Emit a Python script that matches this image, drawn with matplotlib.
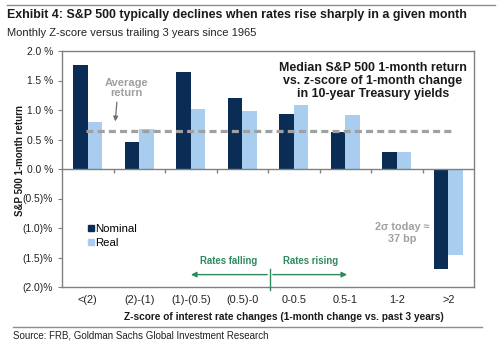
import numpy as np
import matplotlib.pyplot as plt
from matplotlib.lines import Line2D

plt.rcParams['font.family'] = ['Liberation Sans', 'DejaVu Sans']

categories = ['<(2)', '(2)-(1)', '(1)-(0.5)', '(0.5)-0', '0-0.5', '0.5-1', '1-2', '>2']
nominal = [1.77, 0.46, 1.64, 1.20, 0.94, 0.63, 0.29, -1.70]
real = [0.79, 0.68, 1.02, 0.99, 1.09, 0.92, 0.29, -1.45]
average_return = 0.64
yticks = [2.0, 1.5, 1.0, 0.5, 0.0, -0.5, -1.0, -1.5, -2.0]
yticklabels = ['2.0 %', '1.5 %', '1.0 %', '0.5 %', '0.0 %', '(0.5)%', '(1.0)%', '(1.5)%', '(2.0)%']

NAVY = '#0b2d55'
LIGHT = '#a9cdee'
GREY = '#a0a0a0'
GREEN = '#2f8a5e'
FRAME = '#808080'
TXT = '#1a1a1a'

W, H = 500, 343
fig = plt.figure(figsize=(W / 100, H / 100), dpi=100)
ax = fig.add_axes([62 / W, 1 - 287 / H, 412 / W, 236 / H])

x = np.arange(len(categories))
bw = 0.28
ax.bar(x - bw / 2, nominal, bw, color=NAVY, label='Nominal', zorder=2)
ax.bar(x + bw / 2, real, bw, color=LIGHT, label='Real', zorder=2)

ax.set_xlim(-0.5, len(categories) - 0.5)
ax.set_ylim(-2.0, 2.0)
ax.set_yticks(yticks)
ax.set_yticklabels(yticklabels, fontsize=7.4, color='#222222')
ax.set_xticks(x)
ax.set_xticklabels(categories, fontsize=7.9, color='#222222')
ax.tick_params(axis='x', length=0, pad=6)
ax.tick_params(axis='y', length=3, color=FRAME, pad=3.6)
for s in ax.spines.values():
    s.set_color(FRAME)
    s.set_linewidth(1)

# zero line with small ticks between the buckets
ax.axhline(0, color=FRAME, lw=1, zorder=3)
bounds = np.arange(0.5, len(categories) - 0.5)
ax.vlines(bounds, -0.06, 0, color=FRAME, lw=1, zorder=3)

# average return
ax.plot([-0.03, 7.05], [average_return, average_return], color=GREY, lw=2.3,
        ls=(0, (2.2, 1.3)), zorder=4)
ax.text(0.76, 1.37, 'Average\nreturn', color=GREY, fontsize=8, fontweight='bold',
        ha='center', va='center', linespacing=1.05)
ax.annotate('', xy=(0.53, 0.76), xytext=(0.57, 1.18),
            arrowprops=dict(arrowstyle='-|>', color='#6f6f6f', lw=0.9, mutation_scale=7))

ax.text(5.54, 1.49, 'Median S&P 500 1-month return\nvs. z-score of 1-month change\nin 10-year Treasury yields',
        color=TXT, fontsize=8.9, fontweight='bold', ha='center', va='center',
        linespacing=1.1)

ax.text(6.1, -1.08, '2σ today ≈\n37 bp', color=GREY, fontsize=7.8, fontweight='bold',
        ha='center', va='center', linespacing=1.2)

# rates falling / rising arrows
ya = -1.79
xd = 3.54
ax.annotate('', xy=(1.95, ya), xytext=(xd, ya),
            arrowprops=dict(arrowstyle='-|>', color=GREEN, lw=1, mutation_scale=8))
ax.annotate('', xy=(5.09, ya), xytext=(xd, ya),
            arrowprops=dict(arrowstyle='-|>', color=GREEN, lw=1, mutation_scale=8))
ax.plot([xd, xd], [-1.69, -2.05], color=GREEN, lw=1, clip_on=False, zorder=5)
ax.text(2.74, -1.64, 'Rates falling', color=GREEN, fontsize=6.9, fontweight='bold',
        ha='center', va='bottom')
ax.text(4.32, -1.64, 'Rates rising', color=GREEN, fontsize=6.9, fontweight='bold',
        ha='center', va='bottom')

handles = [Line2D([], [], marker='s', ls='', color=NAVY, markersize=4.5),
           Line2D([], [], marker='s', ls='', color=LIGHT, markersize=4.5)]
ax.legend(handles, ['Nominal', 'Real'], loc='upper left', bbox_to_anchor=(0.035, 0.31),
          frameon=False, fontsize=8.2, handletextpad=0.05, handlelength=0.7,
          labelspacing=0.3)

fig.text(20 / W, 1 - 160 / H, 'S&P 500 1-month return', rotation=90, fontsize=7.0,
         fontweight='bold', ha='center', va='center', color=TXT)
fig.text(284 / W, 1 - 317 / H, 'Z-score of interest rate changes (1-month change vs. past 3 years)',
         fontsize=7.3, fontweight='bold', ha='center', va='center', color=TXT)

# header and footer
fig.add_artist(Line2D([7 / W, 495 / W], [1 - 5 / H, 1 - 5 / H], color='#8c8c8c', lw=1))
fig.text(7 / W, 1 - 15 / H, 'Exhibit 4: S&P 500 typically declines when rates rise sharply in a given month',
         fontsize=8.9, fontweight='bold', va='center', color=TXT)
fig.text(7 / W, 1 - 33 / H, 'Monthly Z-score versus trailing 3 years since 1965',
         fontsize=8.0, va='center', color='#222222')
fig.add_artist(Line2D([13 / W, 482 / W], [1 - 327 / H, 1 - 327 / H], color='#8c8c8c', lw=1))
fig.text(13 / W, 1 - 336 / H, 'Source: FRB, Goldman Sachs Global Investment Research',
         fontsize=7.0, va='center', color='#222222')

fig.savefig('out.png', dpi=100)
